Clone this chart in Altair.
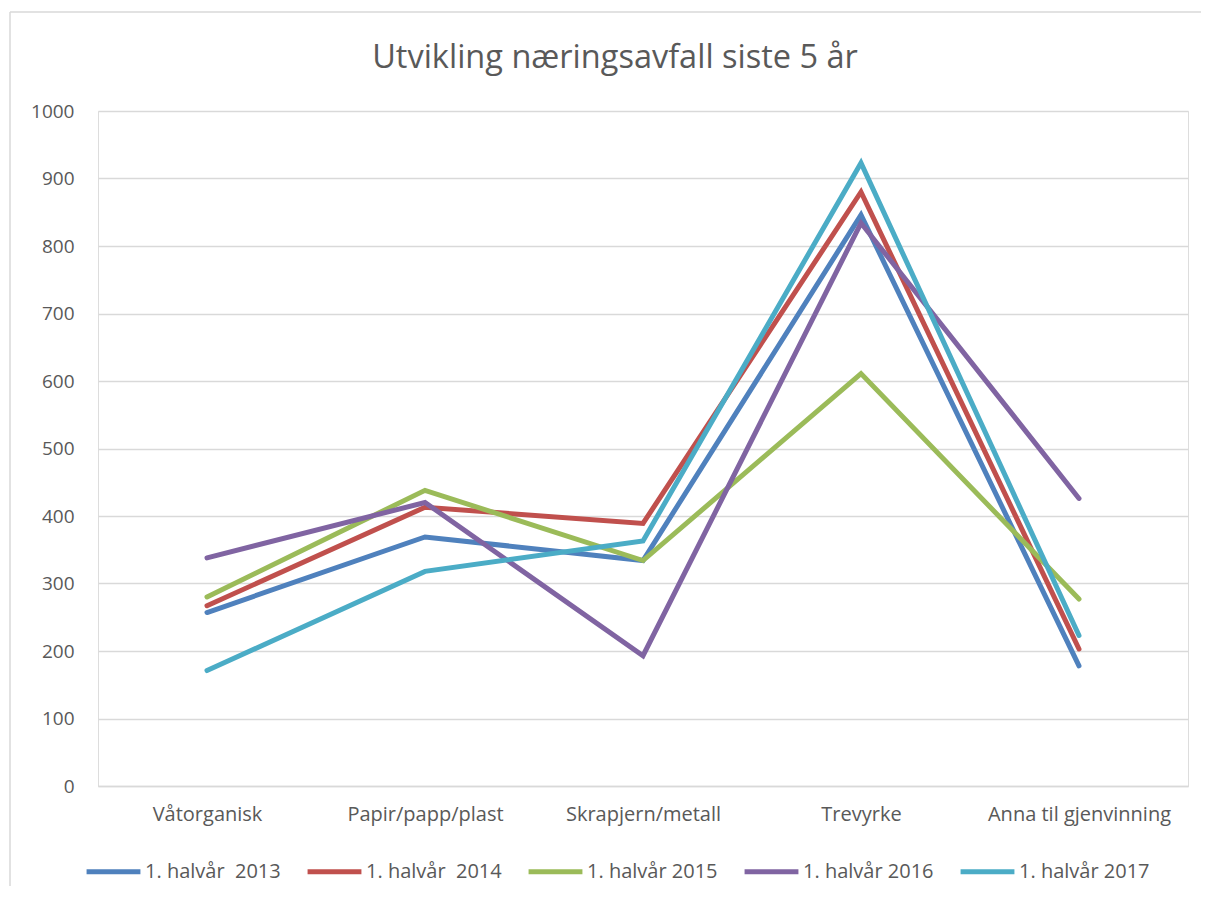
import altair as alt
import pandas as pd

categories = ["Våtorganisk", "Papir/papp/plast", "Skrapjern/metall", "Trevyrke", "Anna til gjenvinning"]
series = ["1. halvår\u00a0 2013", "1. halvår\u00a0 2014", "1. halvår 2015", "1. halvår 2016", "1. halvår 2017"]
v2013 = [257, 369, 334, 846, 178]
v2014 = [267, 413, 389, 880, 203]
v2015 = [280, 438, 334, 611, 277]
v2016 = [338, 420, 193, 834, 426]
v2017 = [171, 318, 363, 923, 223]
colors = ["#4F81BD", "#C0504D", "#9BBB59", "#8064A2", "#4BACC6"]
y_ticks = list(range(0, 1001, 100))
title_text = "Utvikling næringsavfall siste 5 år"

rows = []
for s, vals in zip(series, [v2013, v2014, v2015, v2016, v2017]):
    for c, v in zip(categories, vals):
        rows.append({"Kategori": c, "Serie": s, "Verdi": v})
df = pd.DataFrame(rows)

FONT = "Open Sans"
GREY = "#595959"

lines = alt.Chart(df).mark_line(strokeWidth=5, strokeCap="round", strokeJoin="miter").encode(
    x=alt.X("Kategori:N", sort=categories, scale=alt.Scale(padding=0.5),
            axis=alt.Axis(title=None, labelAngle=0, ticks=False, domainColor="#d9d9d9",
                          domainWidth=1.5, labelPadding=18, labelFontSize=20, labelLimit=400,
                          labelColor=GREY, labelFont=FONT, grid=False)),
    y=alt.Y("Verdi:Q", scale=alt.Scale(domain=[0, 1000], nice=False),
            axis=alt.Axis(title=None, values=y_ticks, format="d", ticks=False, domain=False,
                          gridColor="#d9d9d9", gridWidth=1.5, labelPadding=24,
                          labelFontSize=19, labelColor=GREY, labelFont=FONT)),
    color=alt.Color("Serie:N", sort=series,
                    scale=alt.Scale(domain=series, range=colors),
                    legend=alt.Legend(title=None, orient="none", legendX=-14, legendY=731,
                                      direction="horizontal", symbolType="stroke",
                                      symbolStrokeWidth=5, symbolSize=2900,
                                      labelFontSize=20, labelColor=GREY, labelFont=FONT,
                                      labelOffset=2, columnPadding=16, labelLimit=400)),
    order=alt.Order("Serie:N"),
)

frame_df = pd.DataFrame({"k": [0]})
top_border = alt.Chart(frame_df).mark_rule(color="#d9d9d9", strokeWidth=1.5).encode(
    x=alt.value(-88), x2=alt.value(1104), y=alt.value(-99), y2=alt.value(-99))
left_border = alt.Chart(frame_df).mark_rule(color="#d9d9d9", strokeWidth=1.5).encode(
    x=alt.value(-88), x2=alt.value(-88), y=alt.value(-99), y2=alt.value(780))
title_mark = alt.Chart(frame_df).mark_text(
    font=FONT, fontSize=32.5, color=GREY, align="center", baseline="alphabetic"
).encode(x=alt.value(517), y=alt.value(-43), text=alt.value(title_text))

chart = alt.layer(top_border, left_border, title_mark, lines).properties(
    width=1090, height=675,
    padding={"left": 90, "top": 103, "right": 13, "bottom": 100},
    autosize=alt.AutoSizeParams(type="none"),
).configure_view(stroke=None).configure(background="white")

chart.save("out.html", embed_options={"renderer": "svg", "actions": False})
